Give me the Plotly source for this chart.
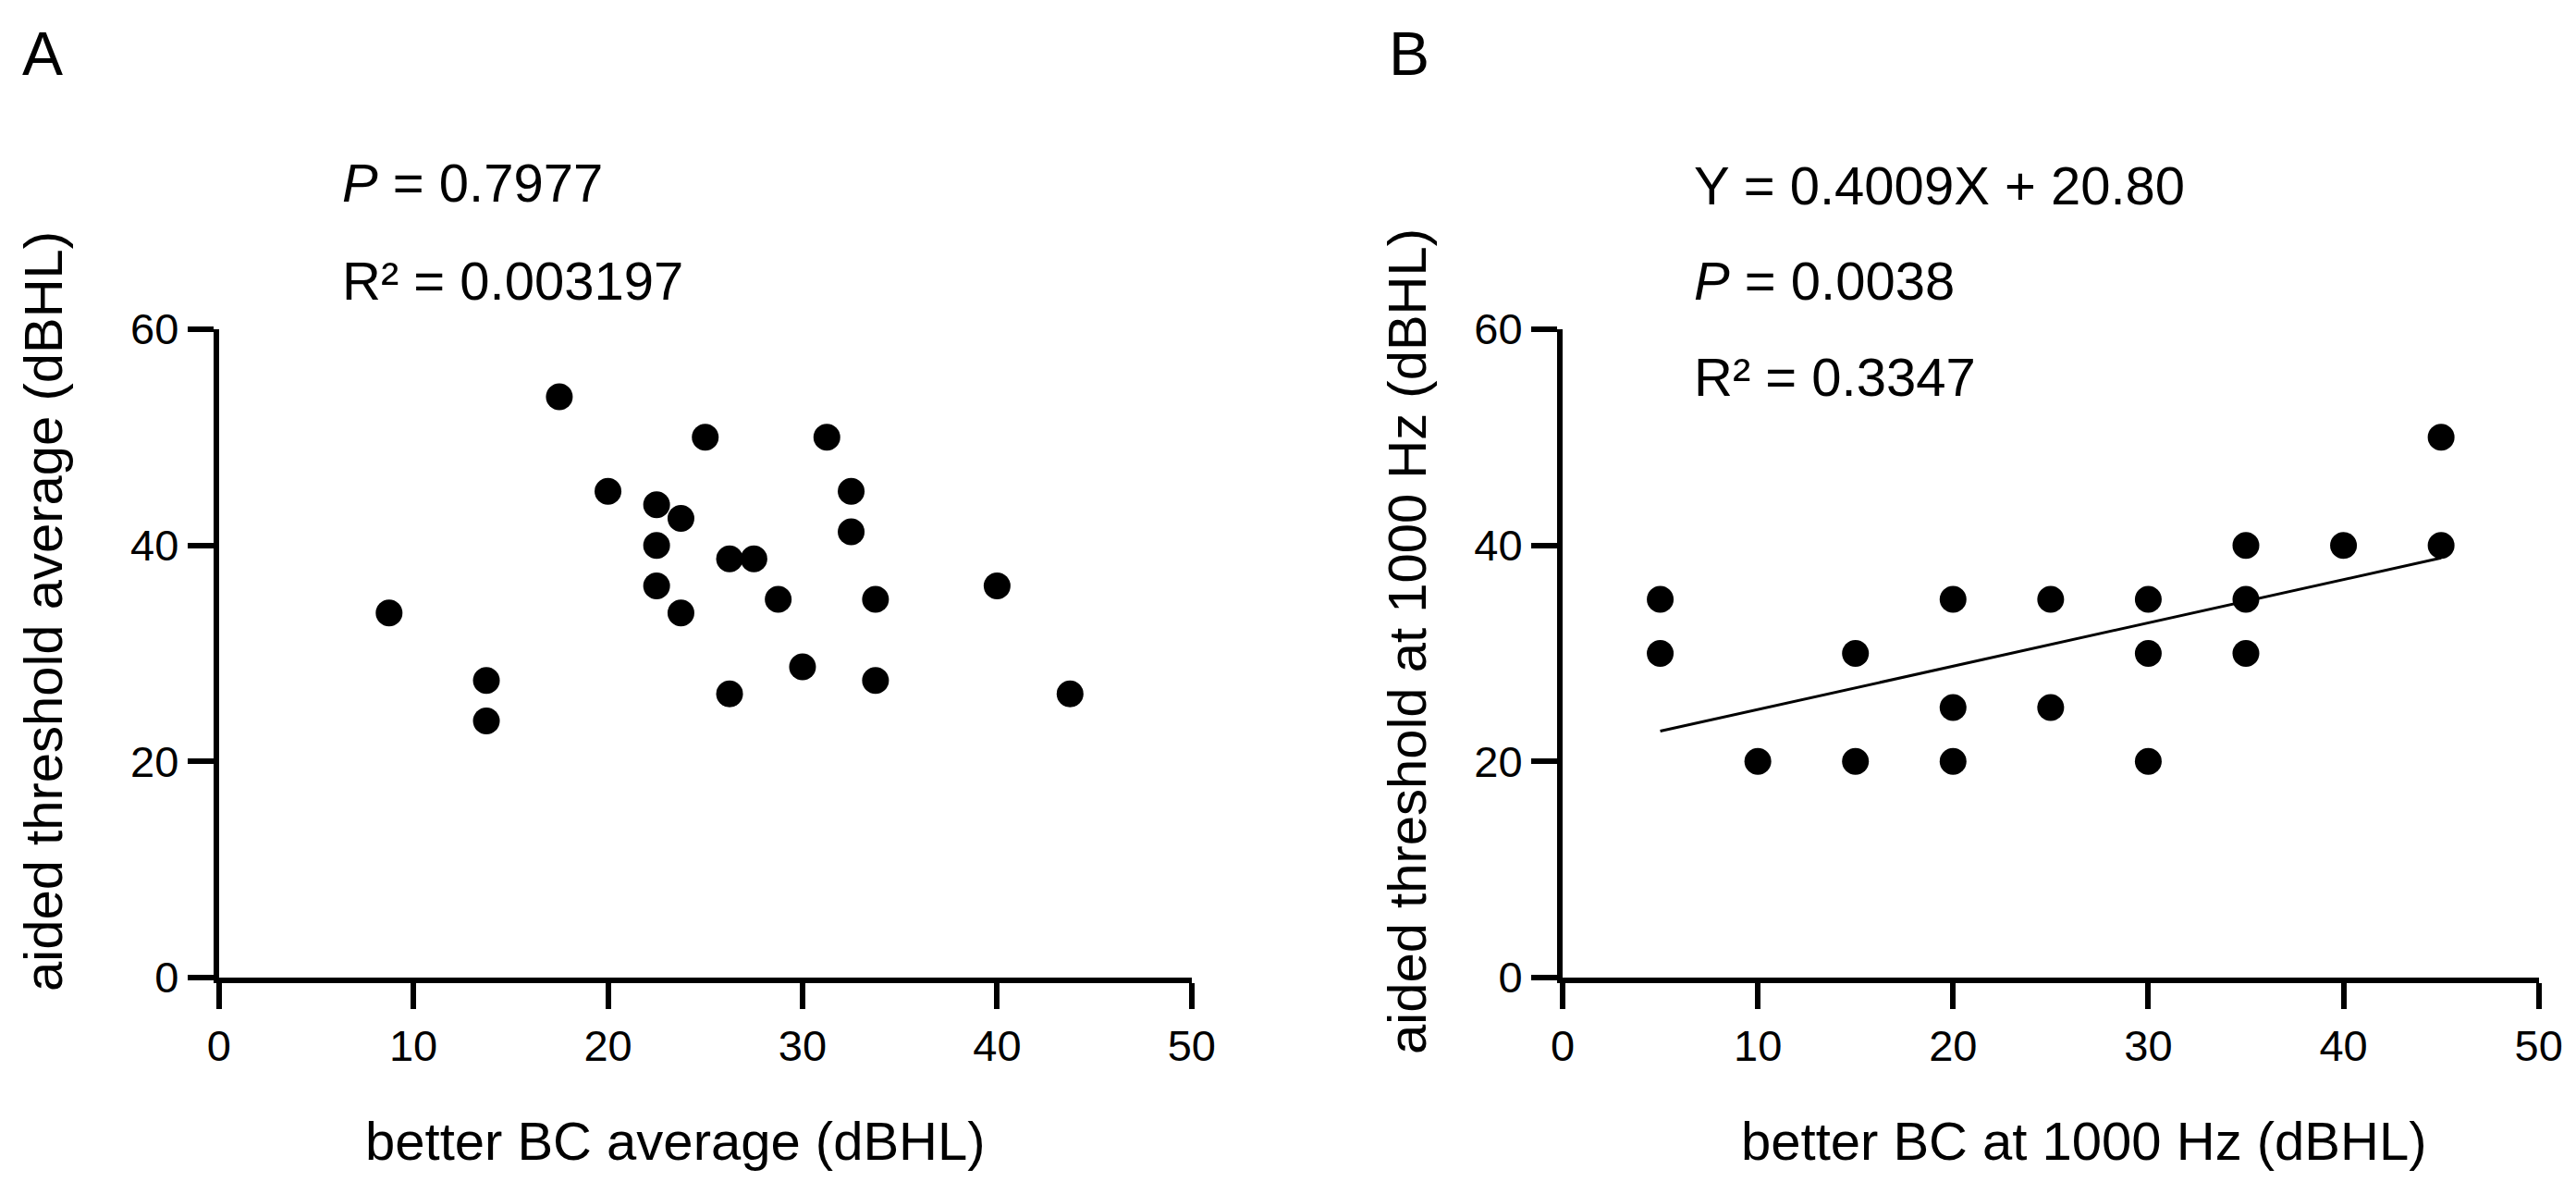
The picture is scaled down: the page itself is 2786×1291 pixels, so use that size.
import plotly.graph_objects as go

# panel A: better BC average vs aided threshold average
a_x = [8.75, 13.75, 13.75, 17.5, 20, 22.5, 22.5, 22.5, 23.75, 23.75, 25, 26.25,
       26.25, 27.5, 28.75, 30, 31.25, 32.5, 32.5, 33.75, 33.75, 40, 43.75]
a_y = [33.75, 27.5, 23.75, 53.75, 45, 43.75, 40, 36.25, 42.5, 33.75, 50, 38.75,
       26.25, 38.75, 35, 28.75, 50, 45, 41.25, 35, 27.5, 36.25, 26.25]

# panel B: better BC at 1000 Hz vs aided threshold at 1000 Hz
b_x = [5, 5, 10, 15, 15, 20, 20, 20, 25, 25, 30, 30, 30, 35, 35, 35, 40, 45, 45]
b_y = [35, 30, 20, 30, 20, 35, 25, 20, 35, 25, 35, 30, 20, 40, 35, 30, 40, 50, 40]

# fitted line reported on panel B
b_slope = 0.4009
b_intercept = 20.80

x_ticks = [0, 10, 20, 30, 40, 50]
y_ticks = [0, 20, 40, 60]

W, H = 2786, 1291
FONT = "Liberation Sans, Arial, sans-serif"


def px(x):
    return x / W


def py(y):
    return 1 - y / H


def axis_style(domain, rng, ticks):
    return dict(
        domain=domain, range=rng, tickvals=ticks, ticks="outside",
        ticklen=28, tickwidth=6, tickcolor="black",
        showline=True, linewidth=6, linecolor="black",
        showgrid=False, zeroline=False, automargin=False,
        tickfont=dict(family=FONT, size=47, color="black"),
        fixedrange=True,
    )


fig = go.Figure()
fig.add_trace(go.Scatter(x=a_x, y=a_y, mode="markers", xaxis="x", yaxis="y",
                         marker=dict(size=29, color="black"), cliponaxis=False))
fig.add_trace(go.Scatter(x=b_x, y=b_y, mode="markers", xaxis="x2", yaxis="y2",
                         marker=dict(size=29, color="black"), cliponaxis=False))
fit_x = [min(b_x), max(b_x)]
fit_y = [b_slope * v + b_intercept for v in fit_x]
fig.add_trace(go.Scatter(x=fit_x, y=fit_y, mode="lines", xaxis="x2", yaxis="y2",
                         line=dict(color="black", width=3)))

y_dom = [py(1057), py(356)]
fig.update_layout(
    width=W, height=H, autosize=False,
    margin=dict(l=0, r=0, t=0, b=0, pad=0),
    paper_bgcolor="white", plot_bgcolor="white",
    showlegend=False,
    xaxis=axis_style([px(236.7), px(1288.8)], [0, 50], x_ticks),
    yaxis=axis_style(y_dom, [0, 60], y_ticks),
    xaxis2=axis_style([px(1690), px(2745.7)], [0, 50], x_ticks),
    yaxis2=axis_style(y_dom, [0, 60], y_ticks),
)
fig.layout.xaxis.anchor = "y"
fig.layout.yaxis.anchor = "x"
fig.layout.xaxis2.anchor = "y2"
fig.layout.yaxis2.anchor = "x2"


def note(text, x, y, size=58, angle=0, xanchor="left"):
    fig.add_annotation(text=text, x=px(x), y=py(y), xref="paper", yref="paper",
                       xanchor=xanchor, yanchor="middle", showarrow=False,
                       textangle=angle,
                       font=dict(family=FONT, size=size, color="black"))


# panel letters
note("A", 22, 58, size=66)
note("B", 1500, 58, size=66)

# statistics
note("<i>P</i> = 0.7977", 368, 218 - 20)
note("R² = 0.003197", 368, 323 - 20)
note("Y = 0.4009X + 20.80", 1830, 220 - 20)
note("<i>P</i> = 0.0038", 1830, 323 - 20)
note("R² = 0.3347", 1830, 427 - 20)

# axis titles
note("better BC average (dBHL)", 730.5, 1253 - 20, xanchor="center")
note("better BC at 1000 Hz (dBHL)", 2253, 1253 - 20, xanchor="center")
note("aided threshold average (dBHL)", 46, 661, angle=-90, xanchor="center")
note("aided threshold at 1000 Hz (dBHL)", 1521, 694, angle=-90, xanchor="center")

fig.write_html("out.html", config={"responsive": False, "displayModeBar": False},
               post_script="document.body.style.margin='0';")
